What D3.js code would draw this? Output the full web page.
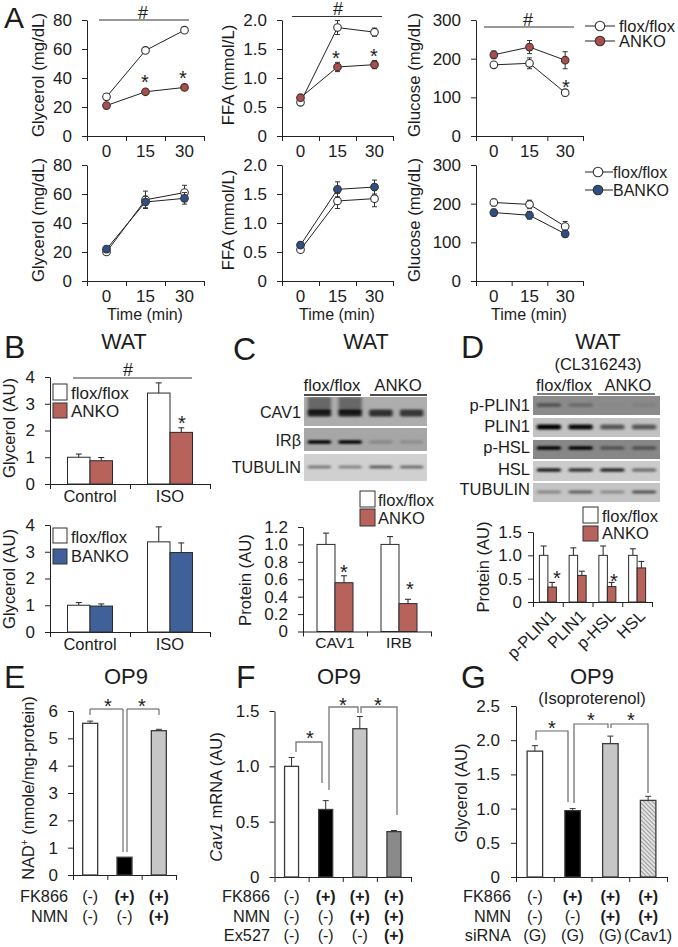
<!DOCTYPE html>
<html><head><meta charset="utf-8">
<script src="https://cdn.jsdelivr.net/npm/d3@7/dist/d3.min.js"></script>
<style>html,body{margin:0;padding:0;background:#fff}svg{display:block}text{font-family:"Liberation Sans",Arial,sans-serif;fill:#1c1c1c}</style>
</head><body><svg id="c" width="678" height="947"></svg>
<script>
// ---------- DATA ----------
const timeLabels = ["0","15","30"];
const glyTopFlox=[27,59,73], glyTopFloxErr=[1,2,1], glyTopKO=[21,30.5,33.5], glyTopKOErr=[1,1,1];
const ffaTopFlox=[.58,1.87,1.79], ffaTopFloxErr=[.03,.12,.07], ffaTopKO=[.66,1.19,1.23], ffaTopKOErr=[.03,.08,.07];
const gluTopFlox=[184,188,112], gluTopFloxErr=[6,14,8], gluTopKO=[210,230,196], gluTopKOErr=[10,17,22];
const glyBotFlox=[20,56,61], glyBotFloxErr=[1,6,5], glyBotKO=[22,54.5,57], glyBotKOErr=[1,4,4];
const ffaBotFlox=[.54,1.38,1.42], ffaBotFloxErr=[.03,.13,.14], ffaBotKO=[.62,1.58,1.62], ffaBotKOErr=[.05,.13,.12];
const gluBotFlox=[203,198,141], gluBotFloxErr=[9,11,13], gluBotKO=[177,170,122], gluBotKOErr=[9,10,8];

const bCats=["Control","ISO"];
const bTopFlox=[1.0,3.4], bTopFloxErr=[.12,.38], bTopKO=[.87,1.93], bTopKOErr=[.12,.17];
const bBotFlox=[1.0,3.37], bBotFloxErr=[.1,.56], bBotKO=[.97,2.97], bBotKOErr=[.08,.36];
const cCats=["CAV1","IRB"];
const cFlox=[1.0,1.0], cFloxErr=[.13,.09], cKO=[.56,.32], cKOErr=[.08,.05];
const dCats=["p-PLIN1","PLIN1","p-HSL","HSL"];
const dFlox=[1,1,1,1], dFloxErr=[.2,.16,.2,.14], dKO=[.32,.57,.33,.73], dKOErr=[.1,.09,.09,.14];
const eVals=[5.55,.65,5.28], eErr=[.08,0,.05];
const fVals=[1.0,.61,1.34,.41], fErr=[.08,.08,.11,.01];
const gVals=[1.84,.97,1.95,1.12], gErr=[.08,.03,.11,.06];
const fk3=["(-)","(+)","(+)"], nmn3=["(-)","(-)","(+)"];
const fk4=["(-)","(+)","(+)","(+)"], nmn4=["(-)","(-)","(+)","(+)"], ex527=["(-)","(-)","(-)","(+)"];
const sirna=["(G)","(G)","(G)","(Cav1)"];
// blot band darkness per lane
const cavBands=[.82,.82,.72,.68], cavSmear=[.5,.5,0,0], irbBands=[1,1,.18,.15], tubCBands=[.42,.36,.55,.48];
const pPlinBands=[.38,.22,.02,.08], plinBands=[1,.95,.55,.55], pHslBands=[1,1,.4,.42], hslBands=[.85,.75,.8,.45], tubDBands=[.32,.52,.3,.6];

// ---------- STYLE ----------
const RED="#ab4d4c", BLUE="#2f4e85", BRED="#b8625c", BBLUE="#40609a";
const svg=d3.select("#c");
const defs=svg.append("defs");
defs.append("filter").attr("id","blur").attr("x","-30%").attr("y","-100%").attr("width","160%").attr("height","300%")
  .append("feGaussianBlur").attr("stdDeviation","1.8 1.3");
const hatch=defs.append("pattern").attr("id","hatch").attr("width",3).attr("height",3).attr("patternUnits","userSpaceOnUse").attr("patternTransform","rotate(45)");
hatch.append("rect").attr("width",3).attr("height",3).attr("fill","#e6e6e6");
hatch.append("rect").attr("width",3).attr("height",1.1).attr("fill","#9a9a9a");

function txt(x,y,s,size,anchor="middle",extra={}){
  const t=svg.append("text").attr("x",x).attr("y",y).attr("font-size",size).attr("text-anchor",anchor).text(s);
  for(const k in extra) t.attr(k,extra[k]);
  return t;
}
function star(x,yc){ txt(x,yc+11,"*",20); }
function hashMark(x0,x1,y,xh,yh){
  svg.append("line").attr("x1",x0).attr("x2",x1).attr("y1",y).attr("y2",y).attr("stroke","#333");
  txt(xh,yh,"#",18);
}
function ylab(x,yc,s,size){ return svg.append("text").attr("transform",`translate(${x},${yc}) rotate(-90)`).attr("text-anchor","middle").attr("font-size",size).text(s); }
function letter(x,y,s,size=32){ txt(x,y,s,size,"start"); }

function axes(cfg){
  const {x0,x1,yTop,yBot,yMax,yTicks,fmt,cats,fs=17,xfs=17,pad=10,xpad=9,col="#222",showX=true}=cfg;
  const y=d3.scaleLinear().domain([0,yMax]).range([yBot,yTop]);
  const xb=d3.scaleBand().domain(cats).range([x0,x1]);
  const xe=d3.scaleLinear().domain([0,cats.length]).range([x0,x1]);
  const ya=svg.append("g").attr("transform",`translate(${x0},0)`)
    .call(d3.axisLeft(y).tickValues(yTicks).tickFormat(fmt).tickSize(5).tickSizeOuter(0).tickPadding(pad));
  const xa=svg.append("g").attr("transform",`translate(0,${yBot})`)
    .call(d3.axisBottom(xe).tickValues(d3.range(cats.length+1)).tickFormat("").tickSize(5).tickSizeOuter(0));
  if(showX){
    const xl=svg.append("g").attr("transform",`translate(0,${yBot})`)
      .call(d3.axisBottom(xb).tickSize(0).tickPadding(xpad));
    xl.select(".domain").remove();
    xl.selectAll("text").attr("font-size",xfs).attr("font-family",null);
  }
  ya.selectAll("text").attr("font-size",fs).attr("font-family",null);
  [ya,xa].forEach(a=>{a.selectAll("path,line").attr("stroke",col).attr("stroke-width",1);});
  return {y,xb};
}
function linePanel(cfg,floxV,floxE,koV,koE,koCol){
  const {y,xb}=axes({...cfg,cats:timeLabels});
  const cx=i=>xb(timeLabels[i])+xb.bandwidth()/2;
  const ln=d3.line().x((d,i)=>cx(i)).y(d=>y(d));
  const draw=(V,E,fill)=>{
    const g=svg.append("g");
    g.selectAll(".e").data(V).join("g").each(function(d,i){
      const s=d3.select(this), X=cx(i), a=y(d-E[i]), b=y(d+E[i]);
      s.append("line").attr("x1",X).attr("x2",X).attr("y1",a).attr("y2",b).attr("stroke","#333");
      [a,b].forEach(v=>s.append("line").attr("x1",X-2.5).attr("x2",X+2.5).attr("y1",v).attr("y2",v).attr("stroke","#333"));
    });
    g.append("path").attr("d",ln(V)).attr("fill","none").attr("stroke","#222").attr("stroke-width",1);
    g.selectAll("circle").data(V).join("circle").attr("cx",(d,i)=>cx(i)).attr("cy",d=>y(d)).attr("r",3.8)
      .attr("fill",fill).attr("stroke","#333").attr("stroke-width",1.1);
  };
  draw(floxV,floxE,"#fff");
  draw(koV,koE,koCol);
}
function groupBars(cfg,cats,a,aE,b,bE,bCol,w){
  const {y,xb}=axes({...cfg,cats});
  const g=svg.append("g");
  const one=(V,E,fill,off)=>{
    V.forEach((d,i)=>{
      const X=xb(cats[i])+xb.bandwidth()/2+off;
      g.append("line").attr("x1",X+w/2).attr("x2",X+w/2).attr("y1",y(d)).attr("y2",y(d+E[i])).attr("stroke","#222");
      g.append("line").attr("x1",X+w/2-3).attr("x2",X+w/2+3).attr("y1",y(d+E[i])).attr("y2",y(d+E[i])).attr("stroke","#222");
      g.append("rect").attr("x",X).attr("y",y(d)).attr("width",w).attr("height",y(0)-y(d)).attr("fill",fill).attr("stroke","#2a2a2a").attr("stroke-width",1);
    });
  };
  one(a,aE,"#fff",-w);
  one(b,bE,bCol,0);
}
function singleBars(cfg,cats,V,E,fills,w){
  const {y,xb}=axes({...cfg,cats,showX:false});
  V.forEach((d,i)=>{
    const c=xb(cats[i])+xb.bandwidth()/2;
    if(E[i]>0){
      svg.append("line").attr("x1",c).attr("x2",c).attr("y1",y(d)).attr("y2",y(d+E[i])).attr("stroke","#333");
      svg.append("line").attr("x1",c-3).attr("x2",c+3).attr("y1",y(d+E[i])).attr("y2",y(d+E[i])).attr("stroke","#333");
    }
    svg.append("rect").attr("x",c-w/2).attr("y",y(d)).attr("width",w).attr("height",y(0)-y(d)).attr("fill",fills[i]).attr("stroke","#3a3a3a").attr("stroke-width",1.3);
  });
  return xb;
}
function bracket(pts,col,sw){
  svg.append("path").attr("d",d3.line()(pts)).attr("fill","none").attr("stroke",col).attr("stroke-width",sw);
}
function lineLegend(x0,x1,cx,yy,tx,name,fill,size){
  svg.append("line").attr("x1",x0).attr("x2",x1).attr("y1",yy).attr("y2",yy).attr("stroke","#222");
  svg.append("circle").attr("cx",cx).attr("cy",yy).attr("r",4.8).attr("fill",fill).attr("stroke","#333").attr("stroke-width",1.1);
  txt(tx,yy+6,name,size,"start");
}
function swatch(x,y,w,h,fill,tx,ty,name,size=17){
  svg.append("rect").attr("x",x).attr("y",y).attr("width",w).attr("height",h).attr("fill",fill).attr("stroke","#333").attr("stroke-width",1);
  txt(tx,ty,name,size,"start");
}
function blotRow(x0,x1,y0,y1,bg,bands,cy,h,smear){
  const clipId="clip"+Math.round(x0)+"_"+Math.round(y0);
  defs.append("clipPath").attr("id",clipId).append("rect").attr("x",x0).attr("y",y0).attr("width",x1-x0).attr("height",y1-y0);
  svg.append("rect").attr("x",x0).attr("y",y0).attr("width",x1-x0).attr("height",y1-y0).attr("fill",bg);
  const lanes=d3.scaleBand().domain(d3.range(bands.length)).range([x0,x1]);
  const g=svg.append("g").attr("clip-path",`url(#${clipId})`);
  const f=g.append("g").attr("filter","url(#blur)");
  const w=lanes.bandwidth()*.76, off=lanes.bandwidth()*.12;
  if(smear) smear.forEach((s,i)=>{ if(s>0) f.append("rect").attr("x",lanes(i)+off).attr("y",y0).attr("width",w).attr("height",cy-y0).attr("fill","#222").attr("opacity",s); });
  bands.forEach((b,i)=>f.append("rect").attr("x",lanes(i)+off).attr("y",cy-h/2).attr("width",w).attr("height",h).attr("rx",1.5).attr("fill","#000").attr("opacity",b));
}
function signRows(cols,rows,rowY,labelX){
  rows.forEach((r,ri)=>{
    txt(labelX,rowY[ri],r.name,16.3,"end");
    r.vals.forEach((v,i)=>txt(cols[i],rowY[ri],v,16,"middle",v==="(+)"?{"font-weight":"bold"}:{}));
  });
}

// ---------- PANEL A ----------
letter(4,27.5,"A",30);
const f0=d3.format("d"), f1=v=>v===0?"0":d3.format(".1f")(v);
const row1={yTop:20,yBot:136}, row2={yTop:165,yBot:281};
const glyA={x0:87,x1:204,yMax:80,yTicks:[0,20,40,60,80],fmt:f0};
const ffaA={x0:282,x1:393,yMax:2,yTicks:[0,.5,1,1.5,2],fmt:f1};
const gluA={x0:476,x1:583,yMax:300,yTicks:[0,100,200,300],fmt:f0};
linePanel({...glyA,...row1},glyTopFlox,glyTopFloxErr,glyTopKO,glyTopKOErr,RED);
linePanel({...ffaA,...row1},ffaTopFlox,ffaTopFloxErr,ffaTopKO,ffaTopKOErr,RED);
linePanel({...gluA,...row1},gluTopFlox,gluTopFloxErr,gluTopKO,gluTopKOErr,RED);
linePanel({...glyA,...row2},glyBotFlox,glyBotFloxErr,glyBotKO,glyBotKOErr,BLUE);
linePanel({...ffaA,...row2},ffaBotFlox,ffaBotFloxErr,ffaBotKO,ffaBotKOErr,BLUE);
linePanel({...gluA,...row2},gluBotFlox,gluBotFloxErr,gluBotKO,gluBotKOErr,BLUE);
[[44,75,"Glycerol (mg/dL)"],[234,75,"FFA (mmol/L)"],[420,75,"Glucose (mg/dL)"],
 [44,220,"Glycerol (mg/dL)"],[234,220,"FFA (mmol/L)"],[420,220,"Glucose (mg/dL)"]].forEach(d=>ylab(d[0],d[1],d[2],16.8));
[145,337,529].forEach(x=>txt(x,320,"Time (min)",16));
hashMark(99,189,20,143,19); hashMark(292,382,16.5,338,15); hashMark(484,574,27,528,26);
star(145,78); star(183,74); star(336,54); star(374,52); star(566,83);
lineLegend(585,615,600,26,619,"flox/flox","#fff",16.5); lineLegend(585,615,600,41,619,"ANKO",RED,16.5);
lineLegend(585,613,598,172,613,"flox/flox","#fff",16); lineLegend(585,613,598,190,613,"BANKO",BLUE,16);

// ---------- PANEL B ----------
letter(4,358,"B"); txt(124,349,"WAT",21.5);
const bCfg={x0:50,x1:210,yMax:4,yTicks:[0,1,2,3,4],fmt:f0,fs:17,xfs:16.5,pad:10,xpad:6};
groupBars({...bCfg,yTop:377,yBot:484},bCats,bTopFlox,bTopFloxErr,bTopKO,bTopKOErr,BRED,22.5);
groupBars({...bCfg,yTop:525,yBot:632},bCats,bBotFlox,bBotFloxErr,bBotKO,bBotKOErr,BBLUE,22.5);
ylab(15,428,"Glycerol (AU)",16.7); ylab(15,579,"Glycerol (AU)",16.7);
hashMark(73,192,378,128,376); star(182,419);
swatch(53,384,14,16,"#fff",71,399,"flox/flox"); swatch(53,403,14,15,BRED,71,417,"ANKO");
swatch(53,528,14,15,"#fff",71,543,"flox/flox",16.5); swatch(53,549,14,15,BBLUE,71,562,"BANKO",16.5);

// ---------- PANEL C ----------
letter(233,360,"C"); txt(366,349,"WAT",21.5);
txt(332,391,"flox/flox",16.8); txt(398,391,"ANKO",16.8);
[[304,361],[370,427]].forEach(d=>svg.append("line").attr("x1",d[0]).attr("x2",d[1]).attr("y1",395).attr("y2",395).attr("stroke","#111").attr("stroke-width",1.5));
blotRow(304,427,397,426,"#adadad",cavBands,413,7,cavSmear);
blotRow(304,427,428,451,"#a6a6a6",irbBands,442,3.5);
blotRow(304,427,454,481,"#d0d0d0",tubCBands,467,3);
txt(301,418,"CAV1",16.2,"end"); txt(301,446,"IRβ",16.2,"end"); txt(301,473,"TUBULIN",16.2,"end");
groupBars({x0:303,x1:431,yTop:527,yBot:631.5,yMax:1.2,yTicks:[0,.2,.4,.6,.8,1,1.2],fmt:f1,fs:17,xfs:15.5,pad:10,xpad:5},cCats,cFlox,cFloxErr,cKO,cKOErr,BRED,18);
ylab(251,580,"Protein (AU)",16.7);
star(344,568); star(410,585);
swatch(360,491,15,16,"#fff",378,506,"flox/flox",16.5); swatch(360,509,15,17,BRED,378,524,"ANKO",16.5);

// ---------- PANEL D ----------
letter(461,358,"D"); txt(598,349,"WAT",21.5); txt(598,370,"(CL316243)",16.5);
txt(564,391,"flox/flox",16.5); txt(628,391,"ANKO",16.5);
[[537,593],[598,655]].forEach(d=>svg.append("line").attr("x1",d[0]).attr("x2",d[1]).attr("y1",394).attr("y2",394).attr("stroke","#555").attr("stroke-width",1.5));
blotRow(533,660,396,415,"#8b8b8b",pPlinBands,405,4);
blotRow(533,660,418,437,"#c2c2c2",plinBands,427,5);
blotRow(533,660,440,459,"#878787",pHslBands,448,3.5);
blotRow(533,660,461,481,"#cbcbcb",hslBands,470,3.5);
blotRow(533,660,483,502,"#c4c4c4",tubDBands,492,3);
[["p-PLIN1",411],["PLIN1",432],["p-HSL",453],["HSL",475],["TUBULIN",495]].forEach(d=>txt(530,d[1],d[0],16.5,"end"));
groupBars({x0:533,x1:652,yTop:532,yBot:602,yMax:1.5,yTicks:[0,.5,1,1.5],fmt:f1,fs:17,pad:6,showX:false},dCats,dFlox,dFloxErr,dKO,dKOErr,BRED,8.5);
{
  const xb=d3.scaleBand().domain(dCats).range([533,652]);
  dCats.forEach(c=>svg.append("text").attr("transform",`translate(${xb(c)+xb.bandwidth()/2+9},617) rotate(-45)`).attr("text-anchor","end").attr("font-size",16.5).text(c));
}
ylab(489,567,"Protein (AU)",16.5);
star(557,574); star(614,577);
swatch(583,507,15,16,"#fff",602,522,"flox/flox",16.5); swatch(583,526,15,15,BRED,602,539,"ANKO",16.5);

// ---------- PANEL E ----------
letter(4,688,"E"); txt(126,684,"OP9",22);
const eCats=["a","b","c"];
const exb=singleBars({x0:73,x1:176,yTop:711,yBot:875,yMax:6,yTicks:[0,1,2,3,4,5,6],fmt:f0,fs:17,pad:10},eCats,eVals,eErr,["#fff","#000","#c6c6c6"],15);
{
  const t=ylab(34,788,"",16.4); t.append("tspan").text("NAD");
  t.append("tspan").attr("dy",-6).attr("font-size",10).text("+");
  t.append("tspan").attr("dy",6).text(" (nmole/mg-protein)");
}
bracket([[90,715],[90,709],[123,709],[123,852]],"#555",1);
bracket([[127,852],[127,709],[159,709],[159,715]],"#555",1);
star(108,702); star(142,702);
signRows(eCats.map(c=>exb(c)+exb.bandwidth()/2),[{name:"FK866",vals:fk3},{name:"NMN",vals:nmn3}],[902,922],68);

// ---------- PANEL F ----------
letter(236,688,"F"); txt(339,684,"OP9",22);
const fCats=["a","b","c","d"];
const fxb=singleBars({x0:274.5,x1:411,yTop:711,yBot:877,yMax:1.5,yTicks:[0,.5,1,1.5],fmt:f1,fs:17,pad:10},fCats,fVals,fErr,["#fff","#000","#c6c6c6","#8a8a8a"],14);
{
  const t=ylab(222,797,"",16.5); t.append("tspan").attr("font-style","italic").text("Cav1");
  t.append("tspan").text(" mRNA (AU)");
}
bracket([[296,752],[296,742],[322,742],[322,783]],"#808080",1.4);
bracket([[329,790],[329,707],[358,707],[358,713]],"#808080",1.4);
bracket([[361,713],[361,707],[397,707],[397,815]],"#808080",1.4);
star(310,734); star(343,701); star(378,701);
signRows(fCats.map(c=>fxb(c)+fxb.bandwidth()/2),[{name:"FK866",vals:fk4},{name:"NMN",vals:nmn4},{name:"Ex527",vals:ex527}],[902,922,941],270);

// ---------- PANEL G ----------
letter(461,688,"G"); txt(592,684,"OP9",22); txt(592,704,"(Isoproterenol)",16.5);
const gxb=singleBars({x0:516,x1:667,yTop:706,yBot:877,yMax:2.5,yTicks:[0,.5,1,1.5,2,2.5],fmt:f1,fs:17,pad:11},fCats,gVals,gErr,["#fff","#000","#c6c6c6","url(#hatch)"],15.5);
ylab(467,793,"Glycerol (AU)",16.5);
bracket([[536,740],[536,731],[568,731],[568,802]],"#666",1.2);
bracket([[574,803],[574,724],[608,724],[608,728]],"#666",1.2);
bracket([[611,728],[611,724],[648,724],[648,793]],"#666",1.2);
star(552,724); star(591,716); star(631,716);
signRows(fCats.map(c=>gxb(c)+gxb.bandwidth()/2),[{name:"FK866",vals:fk4},{name:"NMN",vals:nmn4},{name:"siRNA",vals:sirna}],[902,922,941],511);
</script></body></html>
